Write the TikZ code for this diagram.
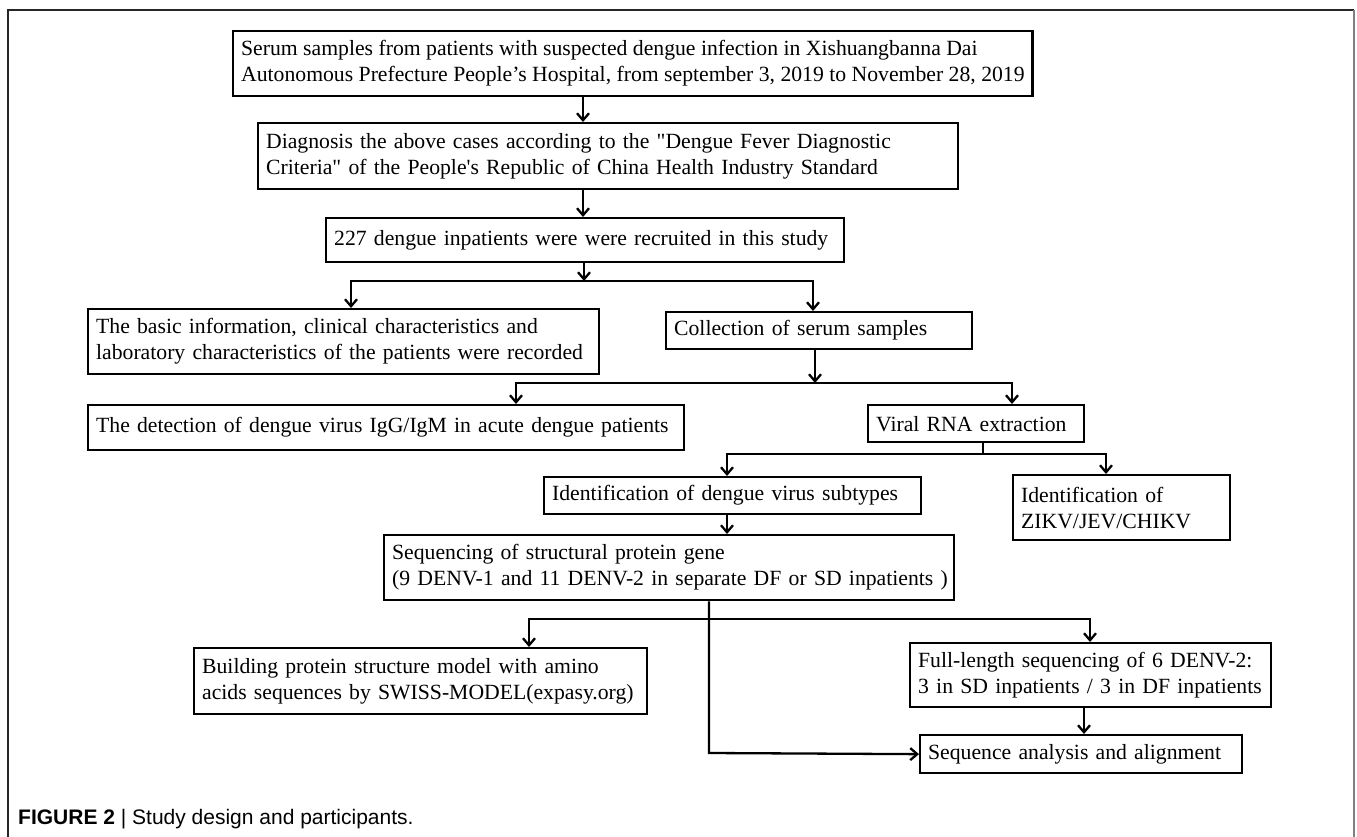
\documentclass[tikz,border=0pt]{standalone}
\usepackage{fontspec}
\setmainfont{Liberation Serif}
\newfontfamily\rawserif{Liberation Serif}
\newfontfamily\capfont{Liberation Sans}
\usetikzlibrary{arrows.meta}
\begin{document}
\begin{tikzpicture}[x=1pt,y=-1pt,
  box/.style={draw, line width=2.3pt, anchor=north west, inner xsep=8pt, inner ysep=0pt,
    align=left, font=\rawserif\fontsize{21.7}{26}\selectfont},
  conn/.style={line width=2.3pt, line cap=rect},
  arr/.style={line width=2.3pt, -{Straight Barb[length=7pt,width=12pt,line width=2.3pt]}},
  frame/.style={line width=1.8pt}]
\useasboundingbox (0,0) rectangle (1357,837);
% frame
\draw[frame, black!85] (8,837) -- (8,10) -- (1354,10);
\draw[frame, gray] (1354,10) -- (1354,837);

% boxes
\node[box, minimum height=65pt] (b1) at (232,30)
  {\mbox{Serum samples from patients with suspected dengue infection in Xishuangbanna Dai}\\
   \mbox{Autonomous Prefecture People’s Hospital, from september 3, 2019 to November 28, 2019}};
\node[box, minimum width=700pt, text width=684pt, minimum height=66pt] (b2) at (257,122)
  {\mbox{Diagnosis the above cases according to the "Dengue Fever Diagnostic}\\
   \mbox{Criteria" of the People's Republic of China Health Industry Standard}};
\node[box, minimum width=518pt, text width=502pt, minimum height=44pt] (b3) at (325,217)
  {\mbox{227 dengue inpatients were were recruited in this study}};
\node[box, minimum width=511pt, text width=495pt, minimum height=65pt] (b4) at (87,308)
  {\mbox{The basic information, clinical characteristics and}\\
   \mbox{laboratory characteristics of the patients were recorded}};
\node[box, minimum width=306pt, text width=290pt, minimum height=37pt] (b5) at (665,311)
  {\mbox{Collection of serum samples}};
\node[box, minimum width=596pt, text width=580pt, minimum height=45pt] (b6) at (87,404)
  {\mbox{The detection of dengue virus IgG/IgM in acute dengue patients}};
\node[box, minimum width=216pt, text width=200pt, minimum height=37pt] (b7) at (867,404)
  {\mbox{Viral RNA extraction}};
\node[box, minimum width=377pt, text width=361pt, minimum height=37pt] (b8) at (543,476)
  {\mbox{Identification of dengue virus subtypes}};
\node[box, minimum width=217pt, text width=201pt, minimum height=65pt] (b9) at (1012,474)
  {\mbox{Identification of}\\ \mbox{ZIKV/JEV/CHIKV}};
\node[box, minimum width=570pt, text width=554pt, minimum height=65pt] (b10) at (383,534)
  {\mbox{Sequencing of structural protein gene}\\
   \mbox{(9 DENV-1 and 11 DENV-2 in separate DF or SD inpatients )}};
\node[box, minimum width=453pt, text width=437pt, minimum height=66pt] (b11) at (193,647)
  {\mbox{Building protein structure model with amino}\\
   \mbox{acids sequences by SWISS-MODEL(expasy.org)}};
\node[box, minimum width=361pt, text width=345pt, minimum height=64pt] (b12) at (909,642)
  {\mbox{Full-length sequencing of 6 DENV-2:}\\
   \mbox{3 in SD inpatients / 3 in DF inpatients}};
\node[box, minimum width=322pt, text width=306pt, minimum height=38pt] (b13) at (919,734)
  {\mbox{Sequence analysis and alignment}};

% caption
\node[anchor=west, inner sep=0pt, font=\capfont\fontsize{21}{24}\selectfont] (cap) at (18,819)
  {\textbf{FIGURE 2} | Study design and participants.};

% junction coordinates
\coordinate (c1) at (583,0);
\coordinate (j1) at (584,281);
\coordinate (j1l) at (351,281);
\coordinate (j1r) at (813,281);
\coordinate (j2) at (815,383);
\coordinate (j2l) at (516,383);
\coordinate (j2r) at (1012,383);
\coordinate (j3) at (983,454);
\coordinate (j3l) at (727,454);
\coordinate (j3r) at (1106,454);
\coordinate (j4) at (709,619);
\coordinate (j4l) at (529,619);
\coordinate (j4r) at (1090,619);
\coordinate (k) at (709,753);
\coordinate (c5) at (1084,0);

% connectors
\draw[arr] (b1.south -| c1) -- (b2.north -| c1);
\draw[arr] (b2.south -| c1) -- (b3.north -| c1);
\draw[arr] (b3.south -| j1) -- (j1);
\draw[conn] (j1l) -- (j1r);
\draw[arr] (j1l) -- (b4.north -| j1l);
\draw[arr] (j1r) -- (b5.north -| j1r);
\draw[arr] (b5.south -| j2) -- (j2);
\draw[conn] (j2l) -- (j2r);
\draw[arr] (j2l) -- (b6.north -| j2l);
\draw[arr] (j2r) -- (b7.north -| j2r);
\draw[conn] (b7.south -| j3) -- (j3);
\draw[conn] (j3l) -- (j3r);
\draw[arr] (j3l) -- (b8.north -| j3l);
\draw[arr] (j3r) -- (b9.north -| j3r);
\draw[arr] (b8.south -| j3l) -- (b10.north -| j3l);
\draw[conn] (j4l) -- (j4r);
\draw[arr] (j4l) -- (b11.north -| j4l);
\draw[arr] (j4r) -- (b12.north -| j4r);
\draw[arr] (b10.south -| k) -- (k) -- (b13.west);
\draw[arr] (b12.south -| c5) -- (b13.north -| c5);
\end{tikzpicture}
\end{document}
